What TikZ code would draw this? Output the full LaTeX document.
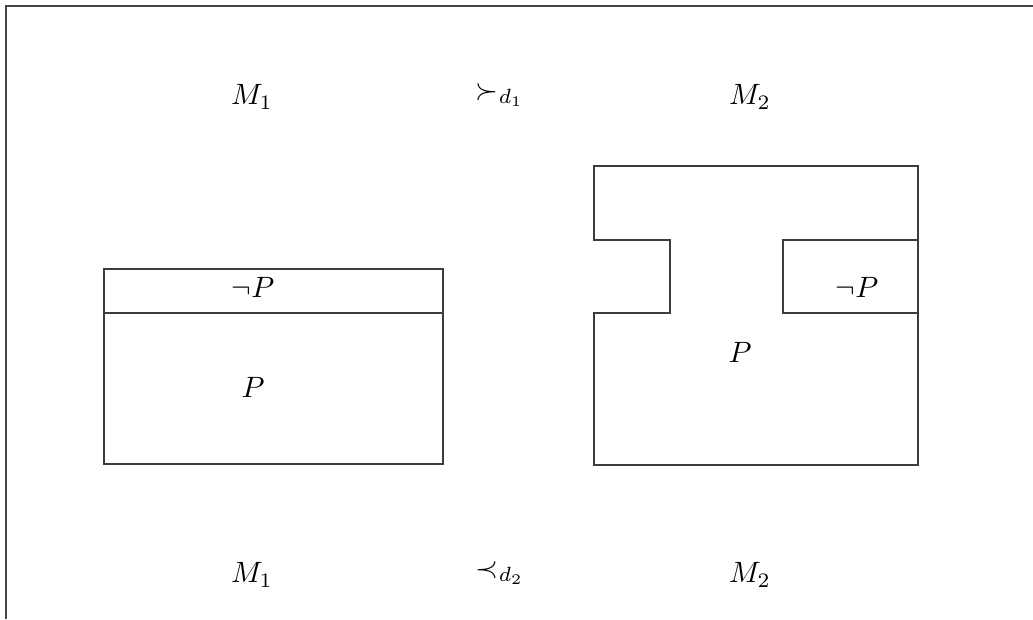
\documentclass[tikz,border=0pt]{standalone}
\usepackage{amsmath,amssymb}
\usepackage{xcolor}
\usepackage{tikz}
\definecolor{frameline}{RGB}{70,70,70}
\definecolor{boxline}{RGB}{60,60,60}

\begin{document}
\begin{tikzpicture}[x=0.34pt,y=-0.34pt,
    boxedge/.style={draw=boxline, line width=0.55pt},
    lbl/.style={inner sep=1pt}]
    \useasboundingbox (0,0) rectangle (1033,619);

    % Frame
    \draw[frameline, line width=0.7pt] (6,619) -- (6,6) -- (1033,6);

    % Top row
    \node[lbl] (mtopa) at (252,97) {$M_1$};
    \node[lbl] (dtop) at (500,95) {$\succ_{d_1}$};
    \node[lbl] (mtopb) at (750,97) {$M_2$};

    % Model M1
    \draw[boxedge] (104,269) rectangle (443,464);
    \draw[boxedge] (104,313) -- (443,313);
    \node[lbl] (negpa) at (253,287) {$\neg P$};
    \node[lbl] (pa) at (253,387) {$P$};

    % Model M2
    \draw[boxedge] (594,166) -- (918,166) -- (918,465) -- (594,465)
        -- (594,313) -- (670,313) -- (670,240) -- (594,240) -- cycle;
    \draw[boxedge] (918,240) -- (783,240) -- (783,313) -- (918,313);
    \node[lbl] (negpb) at (857,287) {$\neg P$};
    \node[lbl] (pb) at (740,352) {$P$};

    % Bottom row
    \node[lbl] (mbota) at (252,575) {$M_1$};
    \node[lbl] (dbot) at (500,573) {$\prec_{d_2}$};
    \node[lbl] (mbotb) at (750,575) {$M_2$};
\end{tikzpicture}
\end{document}
